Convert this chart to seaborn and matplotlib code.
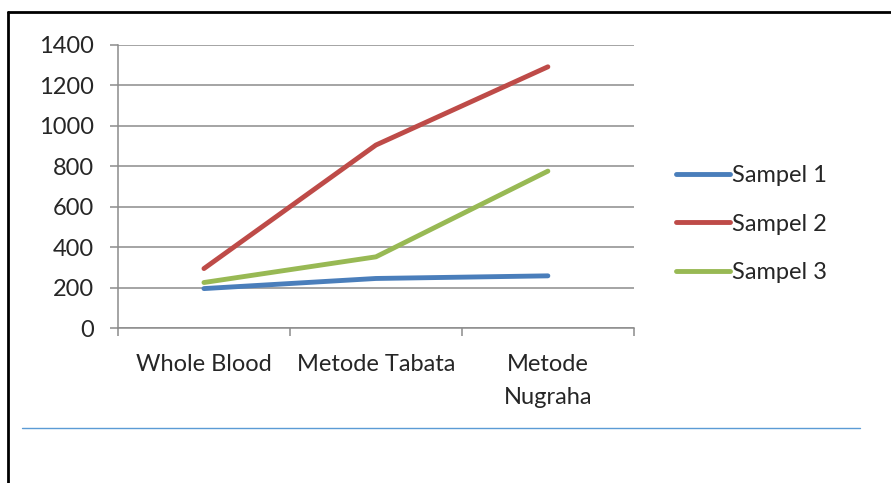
import pandas as pd
import numpy as np
import matplotlib.pyplot as plt
import seaborn as sns
from matplotlib.lines import Line2D

# data
categories = ["Whole Blood", "Metode Tabata", "Metode\nNugraha"]
sampel_1 = [195, 245, 258]
sampel_2 = [294, 905, 1292]
sampel_3 = [225, 352, 776]
series_names = ["Sampel 1", "Sampel 2", "Sampel 3"]
colors = ["#4a7ebb", "#be4b48", "#98b954"]

df = pd.DataFrame({
    "pos": np.tile(np.arange(len(categories)) + 0.5, 3),
    "value": sampel_1 + sampel_2 + sampel_3,
    "series": np.repeat(series_names, len(categories)),
})

sns.set_style("white")
plt.rcParams["font.family"] = ["Lato", "DejaVu Sans"]
fs = 17

fig = plt.figure(figsize=(8.91, 4.83), dpi=100)
ax = fig.add_axes([0.1324, 0.3209, 0.579, 0.586])

sns.lineplot(data=df, x="pos", y="value", hue="series", palette=colors,
             linewidth=3.5, ax=ax, solid_capstyle="round")

ax.set_xlim(0, 3)
ax.set_ylim(0, 1400)
ax.set_yticks(range(0, 1401, 200))
ax.yaxis.grid(True, color="#8c8c8c", linewidth=1.1)
ax.set_axisbelow(True)

ax.set_xticks([0, 1, 2, 3])
ax.set_xticklabels([])
ax.set_xticks(np.arange(len(categories)) + 0.5, minor=True)
ax.set_xticklabels(categories, minor=True, fontsize=fs, linespacing=1.75)
ax.tick_params(axis="x", which="major", direction="out", length=6,
               color="#8c8c8c", width=1.1, bottom=True)
ax.tick_params(axis="x", which="minor", length=0, pad=18.5)
ax.tick_params(axis="y", direction="out", length=6, color="#8c8c8c",
               width=1.1, left=True, labelsize=fs, pad=11)

for side in ["top", "right"]:
    ax.spines[side].set_visible(False)
for side in ["left", "bottom"]:
    ax.spines[side].set_color("#8c8c8c")
    ax.spines[side].set_linewidth(1.1)
ax.set_xlabel("")
ax.set_ylabel("")

leg = ax.legend(loc="center left", bbox_to_anchor=(1.040, 0.367), frameon=False,
                fontsize=fs, handlelength=2.3, handletextpad=0.1,
                labelspacing=1.17)
for h in leg.get_lines():
    h.set_linewidth(3.5)
    h.set_solid_capstyle("round")

# page decorations around the chart
fig.add_artist(Line2D([8 / 891, 8 / 891], [0, 1 - 12 / 483], color="black",
                      linewidth=2, transform=fig.transFigure))
fig.add_artist(Line2D([8 / 891, 1], [1 - 12 / 483, 1 - 12 / 483], color="black",
                      linewidth=2, transform=fig.transFigure))
fig.add_artist(Line2D([22 / 891, 860 / 891], [1 - 428 / 483, 1 - 428 / 483],
                      color="#5b9bd5", linewidth=1, transform=fig.transFigure))

fig.savefig("out.png", dpi=100)
